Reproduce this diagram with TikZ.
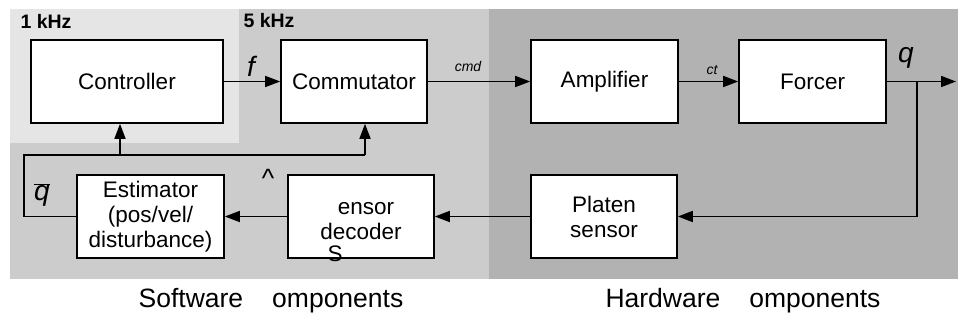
\documentclass[tikz,border=0pt]{standalone}
\usepackage{fontspec}
\setmainfont{Liberation Sans}
\usetikzlibrary{arrows.meta}
\begin{document}
\begin{tikzpicture}[x=1pt,y=-1pt,
    block/.style={draw, line width=1.6pt, fill=white, minimum height=83pt,
      align=center, font=\fontsize{22.5}{25}\selectfont, inner sep=0pt},
    sig/.style={line width=1.6pt, -{Triangle[length=15pt,width=11pt]}},
    wire/.style={line width=1.6pt},
    rate/.style={anchor=west, font=\fontsize{19.5}{20}\selectfont\bfseries},
    big/.style={font=\fontsize{28}{28}\selectfont\itshape},
    small/.style={font=\fontsize{14}{14}\selectfont\itshape},
    part/.style={font=\fontsize{26.5}{28}\selectfont}]
      % background areas
      \useasboundingbox (0,0) rectangle (958,323);
      \fill[black!20] (10,9) rectangle (489,279);
      \fill[black!30] (489,9) rectangle (958,279);
      \fill[black!10] (10,9) rectangle (239,143);
      \node[rate] (slow) at (17,21) {1 kHz};
      \node[rate] (fast) at (240,21) {5 kHz};
      % blocks
      \node[block, minimum width=192pt] (ctrl) at (127,81.5) {Controller};
      \node[block, minimum width=146pt] (comm) at (354,81.5) {Commutator};
      \node[block, minimum width=147pt] (amp) at (604.5,81.5) {Amplifier};
      \node[block, minimum width=147pt] (forcer) at (812.5,81.5) {Forcer};
      \node[block, minimum width=147pt] (est) at (150.5,216.5) {Estimator\\(pos/vel/\\disturbance)};
      \node[block, minimum width=146pt] (dec) at (361,216.5) {};
      \node[block, minimum width=146pt] (plat) at (604,216.5) {Platen\\sensor};
      \node[align=center, yshift=-5pt, font=\fontsize{22.5}{25}\selectfont] (dectxt) at (dec) {\hspace*{10pt}ensor\\decoder};
      \coordinate (tap) at (917,81.5);
      \coordinate (out) at (956,81.5);
      \coordinate (fbl) at (24,155);
      \coordinate (cb) at (120,155);
      \coordinate (mb) at (365,155);
      % forward path
      \draw[sig] (ctrl) -- (comm);
      \draw[sig] (comm) -- (amp);
      \draw[sig] (amp) -- (forcer);
      \draw[sig] (forcer) -- (out);
      % feedback path
      \draw[sig] (tap) |- (plat.east);
      \draw[sig] (plat) -- (dec);
      \draw[sig] (dec) -- (est);
      \draw[wire] (est.west) -| (fbl) -- (mb);
      \draw[sig] (cb) -- (cb |- ctrl.south);
      \draw[sig] (mb) -- (mb |- comm.south);
      % signal labels
      \node[big] (f) at (251,66) {f};
      \node[small] (cmd) at (468,67) {cmd};
      \node[small] (ct) at (712,70) {ct};
      \node[big] (q) at (906,58) {q};
      \node[big] (qbar) at (42,195) {$\overline{\mbox{\itshape q}}$};
      \node[part] (hat) at (268,178) {\textasciicircum};
      \node[part, font=\fontsize{22.5}{25}\selectfont] (s) at (335,254) {S};
      % area labels
      \node[part] (sw) at (271,301) {Software\hspace{29pt}omponents};
      \node[part] (hw) at (743,301) {Hardware\hspace{29pt}omponents};
    \end{tikzpicture}
\end{document}
